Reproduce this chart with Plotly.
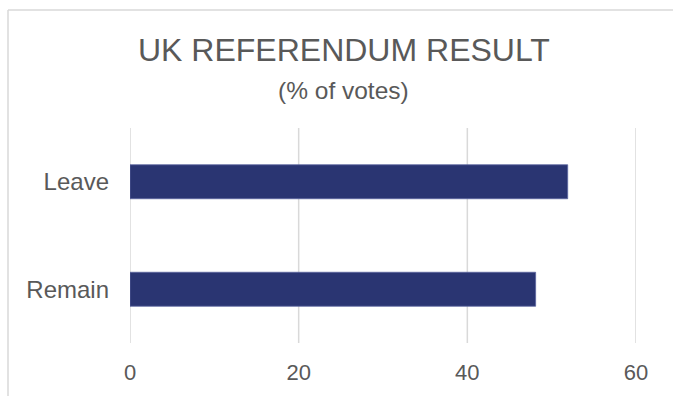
import plotly.graph_objects as go

categories = ["Remain", "Leave"]
values = [48.1, 51.9]
x_ticks = [0, 20, 40, 60]
title_text = "UK REFERENDUM RESULT"
subtitle_text = "(% of votes)"

W, H = 673, 396
L, R, T, B = 130, 673 - 636, 128, 396 - 343
PW, PH = W - L - R, H - T - B

def px(x):
    return (x - L) / PW

def py(y):
    return (H - B - y) / PH

TXT = "#595959"
GRID = "#d9d9d9"
FONT = "Arial"

fig = go.Figure(go.Bar(
    y=categories, x=values, orientation="h",
    marker=dict(color="#2a3572", line=dict(color="#5a64a0", width=0.8)),
    width=0.316,
))

grid_shapes = [
    dict(type="line", xref="x", yref="paper", x0=v, x1=v, y0=0, y1=1,
         line=dict(color=GRID, width=1.5), layer="below")
    for v in x_ticks
]

fig.update_layout(
    width=W, height=H,
    margin=dict(l=L, r=R, t=T, b=B, autoexpand=False),
    paper_bgcolor="white", plot_bgcolor="white",
    showlegend=False,
    font=dict(family=FONT, color=TXT, size=22),
    xaxis=dict(range=[0, 60], tickvals=x_ticks, showgrid=False,
               zeroline=False, showline=False,
               ticks="", tickfont=dict(size=22, color=TXT, family=FONT), ticklabelstandoff=14,
               fixedrange=True),
    yaxis=dict(range=[-0.5, 1.5], showgrid=False, zeroline=False, showline=False,
               ticks="", tickfont=dict(size=24, color=TXT, family=FONT), ticklabelstandoff=20,
               fixedrange=True),
    shapes=grid_shapes + [
        dict(type="line", xref="paper", yref="paper", x0=px(8), x1=px(8), y0=py(10), y1=py(400),
             line=dict(color=GRID, width=1.5)),
        dict(type="line", xref="paper", yref="paper", x0=px(8), x1=px(680), y0=py(10), y1=py(10),
             line=dict(color=GRID, width=1.5)),
    ],
    annotations=[
        dict(text=title_text, xref="paper", yref="paper", x=px(344), y=py(50),
             xanchor="center", yanchor="middle", showarrow=False,
             font=dict(size=32, color=TXT, family=FONT)),
        dict(text=subtitle_text, xref="paper", yref="paper", x=px(343), y=py(90),
             xanchor="center", yanchor="middle", showarrow=False,
             font=dict(size=24.5, color=TXT, family=FONT)),
    ],
)

fig.write_html("out.html")
